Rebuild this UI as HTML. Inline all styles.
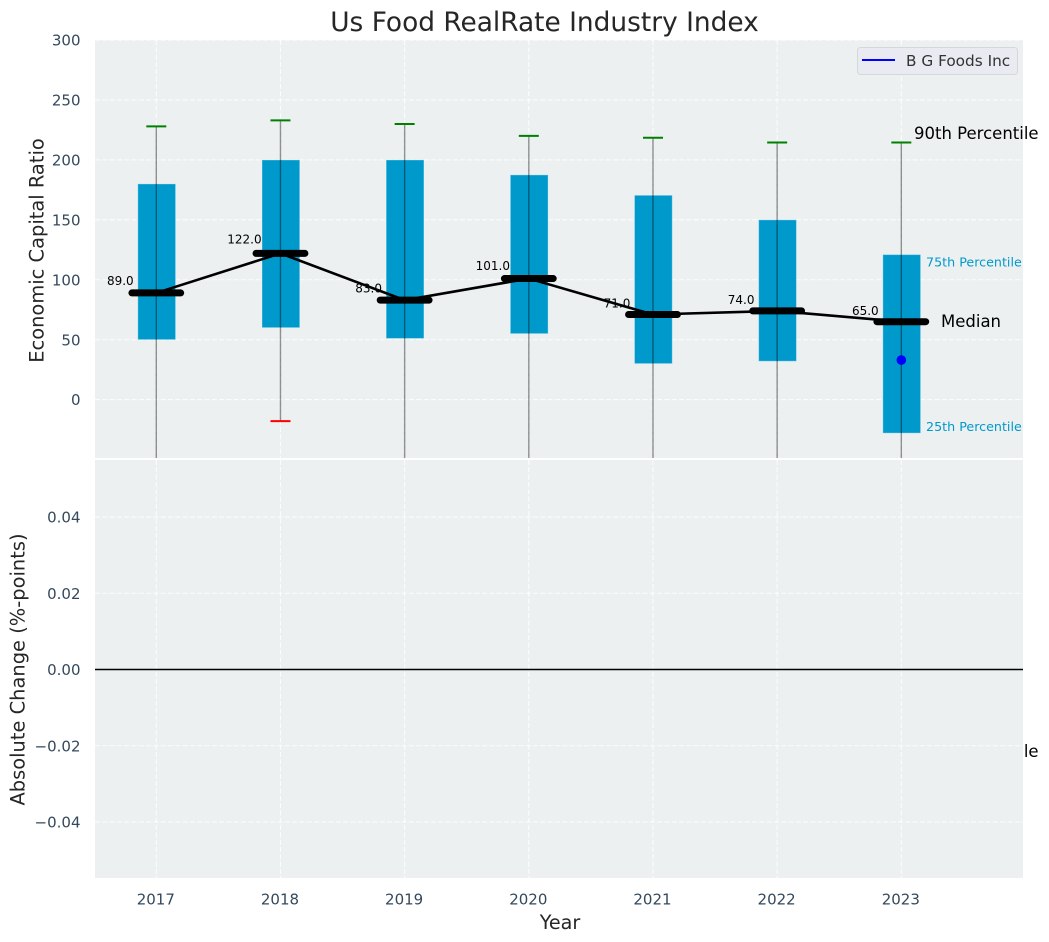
<!DOCTYPE html>
<html>
<head>
<meta charset="utf-8">
<title>Us Food RealRate Industry Index</title>
<style>
html,body{margin:0;padding:0;background:#fff;}
svg{display:block;font-family:"DejaVu Sans","Liberation Sans",sans-serif;}
</style>
</head>
<body>
<svg id="chart" width="1049" height="942" viewBox="0 0 1049 942" xmlns="http://www.w3.org/2000/svg"></svg>
<script>
const years = [2017, 2018, 2019, 2020, 2021, 2022, 2023];
const medians = [89, 122, 83, 101, 71, 74, 65];
const q75 = [180, 200, 200, 187.5, 170.5, 150, 121];
const q25 = [50, 60, 51, 55, 30, 32, -28];
const p90 = [228, 233, 230, 220, 218.5, 214.5, 214.5];
const p10 = [-70, -18, -70, -70, -70, -70, -70];
const companyYears = [2023];
const companyValues = [33];
const topTicks = [0, 50, 100, 150, 200, 250, 300];
const bottomTicks = [-0.04, -0.02, 0, 0.02, 0.04];

const NS = 'http://www.w3.org/2000/svg';
const svg = document.getElementById('chart');
const L = 95, R = 1023;
const TT = 40, TB = 458, BT = 460, BB = 878;

function x(v) { return 156.3 + (v - 2017) * 124.17; }
function yTop(v) { return 399.6 - v * 1.1985; }
function yBot(v) { return 669.5 - v * 3812; }

function mk(tag, attrs, parent, text) {
  const el = document.createElementNS(NS, tag);
  for (const k in attrs) el.setAttribute(k, attrs[k]);
  if (text !== undefined) el.textContent = text;
  (parent || svg).appendChild(el);
  return el;
}
function fmtBottom(v) {
  return (v < 0 ? '\u2212' : '') + Math.abs(v).toFixed(2);
}

const defs = mk('defs', {});
const clip = mk('clipPath', { id: 'top-clip' }, defs);
mk('rect', { x: L, y: TT, width: R - L, height: TB - TT }, clip);

/* Label that sits beneath the lower panel and is mostly hidden by it */
const p10Label = mk('text', { x: 914, y: 757, 'font-size': 16.5, fill: '#000' }, svg, '10th Percentile');



const topPanel = mk('rect', { x: L, y: TT, width: R - L, height: TB - TT, fill: '#ecf0f1' });



const bottomPanel = mk('rect', { x: L, y: BT, width: R - L, height: BB - BT, fill: '#ecf0f1' });



const gridStyle = { stroke: '#ffffff', 'stroke-width': 1.1, 'stroke-dasharray': '5.1 2.2', opacity: 0.8 };

/* Grid */
topTicks.forEach(function (t) {
  const g = mk('line', Object.assign({ x1: L, x2: R, y1: yTop(t), y2: yTop(t) }, gridStyle));
  
  
});
bottomTicks.forEach(function (t) {
  const g = mk('line', Object.assign({ x1: L, x2: R, y1: yBot(t), y2: yBot(t) }, gridStyle));
  
  
});
years.forEach(function (yr) {
  const g1 = mk('line', Object.assign({ x1: x(yr), x2: x(yr), y1: TT, y2: TB }, gridStyle));
  
  
  const g2 = mk('line', Object.assign({ x1: x(yr), x2: x(yr), y1: BT, y2: BB }, gridStyle));
  
  
});

/* Tick labels */
topTicks.forEach(function (t) {
  const lab = mk('text', { x: 80.5, y: yTop(t) + 5.6, 'text-anchor': 'end', 'font-size': 15, fill: '#34495e' }, svg, String(t));
  
  
});
bottomTicks.forEach(function (t) {
  const lab = mk('text', { x: 80.5, y: yBot(t) + 5.6, 'text-anchor': 'end', 'font-size': 15, fill: '#34495e' }, svg, fmtBottom(t));
  
  
});
years.forEach(function (yr) {
  const lab = mk('text', { x: x(yr) - 0.5, y: 904.5, 'text-anchor': 'middle', 'font-size': 15, fill: '#34495e' }, svg, String(yr));
  
  
});

/* Median value labels */
years.forEach(function (yr, i) {
  const lab = mk('text', { x: x(yr) - 36, y: yTop(medians[i] * 1.05) - 2.6, 'text-anchor': 'middle', 'font-size': 12, fill: '#000' }, svg, medians[i].toFixed(1));
  
  
});

/* Marks in the top panel */
const plot = mk('g', { 'clip-path': 'url(#top-clip)' });



years.forEach(function (yr, i) {
  const cx = x(yr) + 0.4;
  const box = mk('rect', {
    x: cx - 18.9, width: 37.8,
    y: yTop(q75[i]), height: yTop(q25[i]) - yTop(q75[i]),
    fill: '#0099cc', stroke: 'rgba(255,255,255,0.35)', 'stroke-width': 1
  }, plot);
  
  
});
years.forEach(function (yr, i) {
  const cx = x(yr);
  const w = mk('line', { x1: cx, x2: cx, y1: yTop(p90[i]), y2: yTop(p10[i]), stroke: '#000', 'stroke-opacity': 0.42, 'stroke-width': 1.4 }, plot);
  
  
  const hi = mk('line', { x1: cx - 10, x2: cx + 10, y1: yTop(p90[i]), y2: yTop(p90[i]), stroke: '#008000', 'stroke-width': 2 }, plot);
  
  
  const lo = mk('line', { x1: cx - 10, x2: cx + 10, y1: yTop(p10[i]), y2: yTop(p10[i]), stroke: '#ff0000', 'stroke-width': 2 }, plot);
  
  
});

const medianPath = mk('polyline', {
  points: years.map(function (yr, i) { return x(yr) + ',' + yTop(medians[i]); }).join(' '),
  fill: 'none', stroke: '#000', 'stroke-width': 2.6
}, plot);



years.forEach(function (yr, i) {
  const cx = x(yr);
  const m = mk('line', { x1: cx - 24.4, x2: cx + 24.4, y1: yTop(medians[i]), y2: yTop(medians[i]), stroke: '#000', 'stroke-width': 7, 'stroke-linecap': 'round' }, plot);
  
  
});

companyYears.forEach(function (yr, i) {
  const d = mk('circle', { cx: x(yr), cy: yTop(companyValues[i]), r: 4.8, fill: '#0000ff' }, plot);
  
  
});

/* Annotations on the last box */
const ann90 = mk('text', { x: 914, y: 139, 'font-size': 16.5, fill: '#000' }, svg, '90th Percentile');


const ann75 = mk('text', { x: 926, y: 266.5, 'font-size': 12.7, fill: '#0099cc' }, svg, '75th Percentile');


const annMed = mk('text', { x: 941, y: 327, 'font-size': 16.5, fill: '#000' }, svg, 'Median');


const ann25 = mk('text', { x: 926, y: 431, 'font-size': 12.7, fill: '#0099cc' }, svg, '25th Percentile');



/* Zero line in the bottom panel */
const zero = mk('line', { x1: L, x2: R, y1: yBot(0), y2: yBot(0), stroke: '#000', 'stroke-width': 1.4 });



/* Legend */
const legend = mk('g', {});


const legendBox = mk('rect', { x: 857.5, y: 47.5, width: 160, height: 27, rx: 3, fill: '#eaeaf2', stroke: '#d5d8da', 'stroke-width': 1 }, legend);


const legendLine = mk('line', { x1: 862, x2: 895, y1: 60, y2: 60, stroke: '#0000ff', 'stroke-width': 2 }, legend);


const legendText = mk('text', { x: 906, y: 66, 'font-size': 15.3, fill: '#333333' }, legend, 'B G Foods Inc');



/* Titles */
const title = mk('text', { x: 544.5, y: 31, 'text-anchor': 'middle', 'font-size': 26.4, fill: '#262626' }, svg, 'Us Food RealRate Industry Index');


const xTitle = mk('text', { x: 560, y: 929, 'text-anchor': 'middle', 'font-size': 19.2, fill: '#262626' }, svg, 'Year');


const yTitleTop = mk('text', { 'text-anchor': 'middle', 'font-size': 19.44, fill: '#262626', transform: 'translate(43.5,250.5) rotate(-90)' }, svg, 'Economic Capital Ratio');


const yTitleBot = mk('text', { 'text-anchor': 'middle', 'font-size': 19.44, fill: '#262626', transform: 'translate(24.7,669.5) rotate(-90)' }, svg, 'Absolute Change (%-points)');


</script>
</body>
</html>
